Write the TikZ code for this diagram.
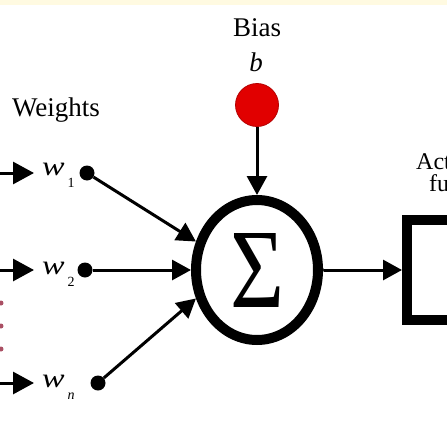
\documentclass[tikz,border=0pt]{standalone}
\usepackage{fontspec}
\setmainfont{Liberation Serif}
\usetikzlibrary{arrows.meta,shapes.geometric}
\definecolor{biasred}{RGB}{225,0,0}
\definecolor{dotred}{RGB}{170,80,100}
\definecolor{topstrip}{RGB}{255,250,225}
\tikzset{
  lbl/.style={inner sep=0pt, font=\fontsize{27}{30}\selectfont},
  wlbl/.style={inner sep=0pt, anchor=base west, font=\fontsize{27}{30}\selectfont},
  blackdot/.style={circle, fill=black, inner sep=0pt, minimum size=15pt},
  conn/.style={line width=3pt, -{Triangle[length=19pt,width=20pt]}},
  inarrow/.style={line width=3pt, -{Triangle[length=21pt,width=22pt]}},
  smalldot/.style={circle, fill=dotred, inner sep=0pt, minimum size=5pt}
}
\newcommand{\wsub}[1]{\scalebox{1.25}[1]{\textit{w}}\hspace{3pt}\raisebox{-12pt}{\fontsize{14}{14}\selectfont #1}}
\begin{document}
\begin{tikzpicture}[x=1pt,y=-1pt]
\useasboundingbox (0,0) rectangle (447,447);
\fill[white] (0,0) rectangle (447,447);
\fill[topstrip] (0,0) rectangle (447,5);

% bias
\node[lbl] (biastxt) at (257,28) {Bias};
\node[lbl] (btxt) at (256,62) {\textit{b}};
\node[circle, fill=biasred, draw=biasred!80!black, line width=0.8pt, inner sep=0pt, minimum size=43pt] (bnode) at (257,105) {};

% summation
\node[ellipse, draw, line width=10pt, minimum width=122pt, minimum height=140pt, inner sep=0pt] (sum) at (257,270)
  {\raisebox{-2pt}{\resizebox{54pt}{74pt}{Σ}}};

% activation box
\node[draw, line width=10pt, minimum width=116pt, minimum height=100pt, inner sep=0pt] (act) at (465,270) {};
\node[lbl, anchor=west, font=\fontsize{24}{26}\selectfont] (acttxt1) at (416,162) {Activation};
\node[lbl, anchor=west, font=\fontsize{24}{26}\selectfont] (acttxt2) at (429,183) {function};

% weights
\node[lbl] (wtitle) at (56,110) {Weights};

\coordinate (in1) at (-10,173);
\coordinate (in2) at (-10,270);
\coordinate (inn) at (-10,383);
\coordinate (tip1) at (34,173);
\coordinate (tip2) at (34,270);
\coordinate (tipn) at (34,383);

\node[wlbl] (w1) at (42,175) {\wsub{1}};
\node[wlbl] (w2) at (42,274) {\wsub{2}};
\node[wlbl] (wn) at (42,387) {\wsub{\textit{n}}};

\node[blackdot] (d1) at (87,173) {};
\node[blackdot] (d2) at (85,270) {};
\node[blackdot] (dn) at (98,383) {};

\node[smalldot] (s1) at (1,303) {};
\node[smalldot] (s2) at (1,326) {};
\node[smalldot] (s3) at (1,349) {};

\draw[inarrow] (in1) -- (tip1);
\draw[inarrow] (in2) -- (tip2);
\draw[inarrow] (inn) -- (tipn);

\draw[conn] (d1) -- (sum.155);
\draw[conn] (d2) -- (sum.180);
\draw[conn] (dn) -- (sum.205);
\draw[conn] (bnode) -- (sum.north);

\node[circle, fill=black, inner sep=0pt, minimum size=10pt] (odot) at ([xshift=-4pt]sum.east) {};
\draw[conn] (odot) -- (act.west);
\end{tikzpicture}
\end{document}
